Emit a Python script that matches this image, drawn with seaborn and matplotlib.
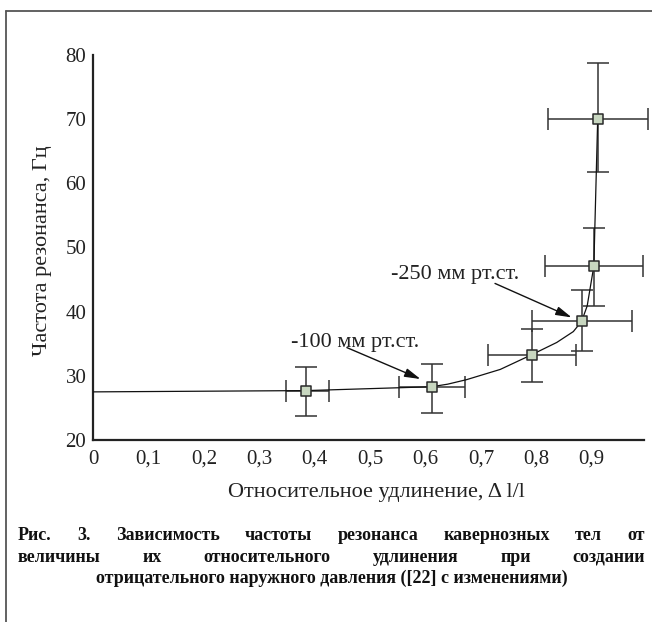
import numpy as np
import pandas as pd
import matplotlib
matplotlib.use("Agg")
import matplotlib.pyplot as plt
import seaborn as sns
from matplotlib.lines import Line2D

# ---------------- data ----------------
pt_x = [0.385, 0.611, 0.792, 0.882, 0.904, 0.911]
pt_y = [27.7, 28.3, 33.3, 38.5, 47.1, 70.1]
pt_x_lo = [0.348, 0.552, 0.713, 0.792, 0.816, 0.821]
pt_x_hi = [0.425, 0.671, 0.872, 0.973, 0.993, 1.001]
pt_y_lo = [23.7, 24.2, 29.1, 33.9, 40.9, 61.8]
pt_y_hi = [31.3, 31.8, 37.3, 43.4, 53.0, 78.7]

curve_x = [0.0, 0.385, 0.611, 0.64, 0.674, 0.735, 0.792, 0.837, 0.867, 0.882, 0.892, 0.904, 0.911]
curve_y = [27.5, 27.7, 28.3, 28.7, 29.4, 31.0, 33.3, 35.2, 36.9, 38.5, 40.9, 47.1, 70.1]

x_ticks = [0.0, 0.1, 0.2, 0.3, 0.4, 0.5, 0.6, 0.7, 0.8, 0.9]
x_tick_labels = ["0", "0,1", "0,2", "0,3", "0,4", "0,5", "0,6", "0,7", "0,8", "0,9"]
y_ticks = [20, 30, 40, 50, 60, 70, 80]

ann_texts = ["-100 мм рт.ст.", "-250 мм рт.ст."]
ann_text_xy = [(0.472, 35.2), (0.654, 45.8)]
ann_arrow_from = [(0.458, 34.4), (0.7255, 44.4)]
ann_arrow_to = [(0.591, 29.5), (0.864, 39.1)]

x_label = "Относительное удлинение, Δ l/l"
y_label = "Частота резонанса, Гц"
caption_lines = [
    "Рис. 3. Зависимость частоты резонанса кавернозных тел от",
    "величины их относительного удлинения при создании",
    "отрицательного наружного давления ([22] с изменениями)",
]

# ---------------- drawing ----------------
sns.set_theme(style="white")
plt.rcParams["font.family"] = ["Liberation Serif", "DejaVu Serif"]

W, H = 652, 622
fig = plt.figure(figsize=(W / 100, H / 100), dpi=100)
fig.patch.set_facecolor("white")

ax_left, ax_right, ax_top, ax_bottom = 93.3, 644.0, 55.0, 440.0
ax = fig.add_axes([ax_left / W, 1 - ax_bottom / H, (ax_right - ax_left) / W, (ax_bottom - ax_top) / H])
ax.set_facecolor("white")

df_pts = pd.DataFrame({"x": pt_x, "y": pt_y})
df_curve = pd.DataFrame({"x": curve_x, "y": curve_y})

sns.lineplot(data=df_curve, x="x", y="y", sort=False, estimator=None,
             color="#111111", linewidth=0.9, ax=ax, zorder=3)

xa = np.array(pt_x)
ya = np.array(pt_y)
xerr = [xa - np.array(pt_x_lo), np.array(pt_x_hi) - xa]
yerr = [ya - np.array(pt_y_lo), np.array(pt_y_hi) - ya]
eb = ax.errorbar(xa, ya, xerr=xerr, yerr=yerr, fmt="none", ecolor="#333333",
                 elinewidth=1.1, capsize=8, capthick=1.1, zorder=2)
for art in eb.get_children():
    art.set_clip_on(False)

sns.scatterplot(data=df_pts, x="x", y="y", marker="s", s=58, color="#c8d7c0",
                edgecolor="#2a2a2a", linewidth=1.1, ax=ax, zorder=5, clip_on=False)

ax.set_xlim(0, 0.9946)
ax.set_ylim(20, 80)
ax.set_xticks(x_ticks)
ax.set_xticklabels(x_tick_labels)
ax.set_yticks(y_ticks)
ax.set_yticklabels([str(v) for v in y_ticks])

for s in ["top", "right"]:
    ax.spines[s].set_visible(False)
for s in ["left", "bottom"]:
    ax.spines[s].set_linewidth(1.6)
    ax.spines[s].set_color("#222222")

ax.tick_params(axis="both", direction="in", length=6, width=1.0, color="#222222",
               labelsize=15, labelcolor="#222222")
ax.tick_params(axis="x", pad=7)
ax.tick_params(axis="y", pad=5)

ax.set_xlabel(x_label, fontsize=16, color="#222222")
ax.set_ylabel(y_label, fontsize=16, color="#222222")
ax.xaxis.set_label_coords((376 - ax_left) / (ax_right - ax_left), (ax_bottom - 493) / (ax_bottom - ax_top))
ax.xaxis.label.set_va("center")
ax.yaxis.set_label_coords((42 - ax_left) / (ax_right - ax_left), (ax_bottom - 251) / (ax_bottom - ax_top))
ax.yaxis.label.set_va("center")

for txt, txy, a0, a1 in zip(ann_texts, ann_text_xy, ann_arrow_from, ann_arrow_to):
    ax.text(txy[0], txy[1], txt, ha="center", va="center", fontsize=16, color="#222222")
    ax.annotate("", xy=a1, xytext=a0,
                arrowprops=dict(arrowstyle="-|>,head_length=0.8,head_width=0.22",
                                color="#111111", lw=1.0, shrinkA=0, shrinkB=0))

# frame around the figure
fig.add_artist(Line2D([6 / W, 6 / W], [0, 1 - 11 / H], transform=fig.transFigure, color="#555555", lw=1.3))
fig.add_artist(Line2D([6 / W, 1], [1 - 11 / H, 1 - 11 / H], transform=fig.transFigure, color="#555555", lw=1.3))

# caption (justified first two lines, centred last)
fig.canvas.draw()
renderer = fig.canvas.get_renderer()
cap_kw = dict(fontsize=13, fontweight="bold", color="#111111", va="center", ha="left")
cap_y = [536, 557, 578]
x0, x1 = 18, 645
for line, ypx in zip(caption_lines[:2], cap_y[:2]):
    words = line.split(" ")
    texts = [fig.text(0, 1 - ypx / H, w, **cap_kw) for w in words]
    widths = [t.get_window_extent(renderer).width for t in texts]
    gap = (x1 - x0 - sum(widths)) / (len(words) - 1)
    xx = x0
    for t, w in zip(texts, widths):
        t.set_x(xx / W)
        xx += w + gap
fig.text(((x0 + x1) / 2) / W, 1 - cap_y[2] / H, caption_lines[2],
         **{**cap_kw, "ha": "center"})

fig.savefig("out.png", dpi=100, facecolor="white")
